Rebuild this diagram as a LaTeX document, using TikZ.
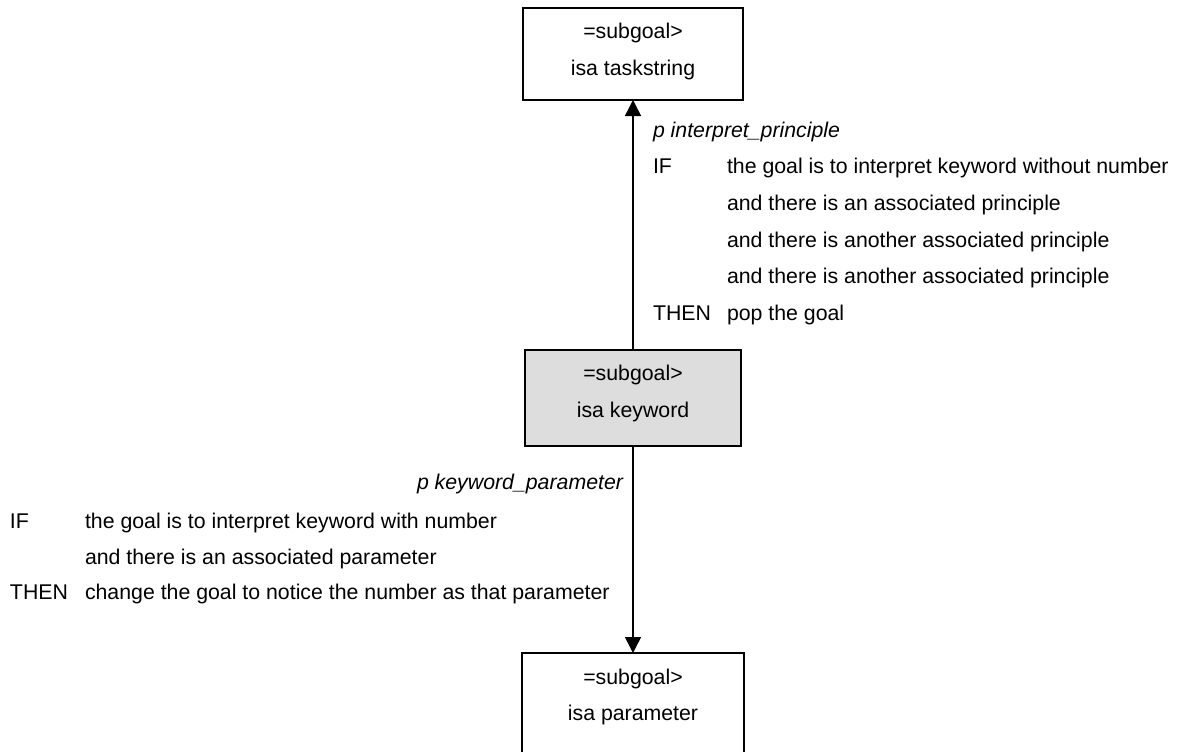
\documentclass[tikz,border=0pt]{standalone}
\usepackage{fontspec}
\setmainfont{Liberation Sans}
\usetikzlibrary{arrows.meta}
\definecolor{boxgray}{HTML}{DDDDDD}
\begin{document}
\begin{tikzpicture}[x=0.5pt,y=-0.5pt,
  font=\fontsize{10.65}{12}\selectfont,
  goalbox/.style={draw, line width=1pt, inner sep=0pt, outer sep=0pt},
  txt/.style={inner sep=0pt, outer sep=0pt, anchor=base west},
  link/.style={line width=0.75pt, -{Triangle[width=8pt,length=8pt]}}]
\clip (0,0) rectangle (1179,751);

% chunk boxes
\node[goalbox, minimum width=110pt, minimum height=46pt] (top) at (633,54) {};
\node[goalbox, fill=boxgray, minimum width=108pt, minimum height=48pt] (mid) at (633,398) {};
\node[goalbox, minimum width=111pt, minimum height=50pt] (bot) at (633,703) {};

% box contents
\node[txt, anchor=base] (topa) at (633,38) {=subgoal>};
\node[txt, anchor=base] (topb) at (633,75) {isa taskstring};
\node[txt, anchor=base] (mida) at (633,380) {=subgoal>};
\node[txt, anchor=base] (midb) at (633,417) {isa keyword};
\node[txt, anchor=base] (bota) at (633,684) {=subgoal>};
\node[txt, anchor=base] (botb) at (633,720) {isa parameter};

% transitions
\draw[link] (mid.north) -- (top.south);
\draw[link] (mid.south) -- (bot.north);

% production interpret_principle
\node[txt] (p1) at (653,137) {\itshape p interpret\_principle};
\node[txt] (p1if) at (653,173) {IF};
\node[txt] (p1c1) at (727,173) {the goal is to interpret keyword without number};
\node[txt] (p1c2) at (727,210) {and there is an associated principle};
\node[txt] (p1c3) at (727,247) {and there is another associated principle};
\node[txt] (p1c4) at (727,283) {and there is another associated principle};
\node[txt] (p1then) at (653,320) {THEN};
\node[txt] (p1a) at (727,320) {pop the goal};

% production keyword_parameter
\node[txt, anchor=base east] (p2) at (623,489) {\itshape p keyword\_parameter};
\node[txt] (p2if) at (10,528) {IF};
\node[txt] (p2c1) at (85,528) {the goal is to interpret keyword with number};
\node[txt] (p2c2) at (85,564) {and there is an associated parameter};
\node[txt] (p2then) at (10,599) {THEN};
\node[txt] (p2a) at (85,599) {change the goal to notice the number as that parameter};
\end{tikzpicture}
\end{document}
